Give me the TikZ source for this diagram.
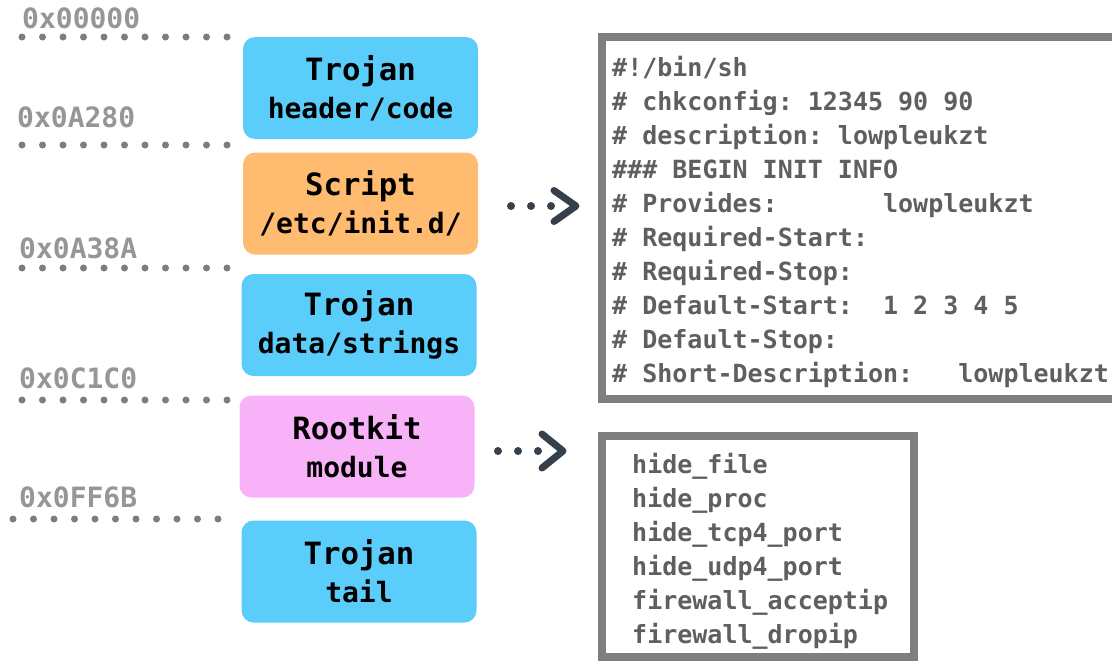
\documentclass[tikz,border=0pt]{standalone}
\usepackage{fontspec}
\setmonofont{DejaVu Sans Mono}
\usepackage{xcolor}
\definecolor{trojanblue}{RGB}{91,205,250}
\definecolor{scriptorange}{RGB}{255,187,112}
\definecolor{rootkitpink}{RGB}{248,178,248}
\definecolor{addrgray}{RGB}{150,150,150}
\definecolor{dotgray}{RGB}{125,125,125}
\definecolor{codegray}{RGB}{95,95,95}
\definecolor{framegray}{RGB}{127,127,127}
\definecolor{arrowslate}{RGB}{54,64,74}
\newcommand{\sectitle}[1]{{\fontsize{30.7}{38}\selectfont #1}}

\begin{document}
\begin{tikzpicture}[x=1pt, y=-1pt,
  section/.style={rounded corners=12pt, minimum width=235pt, minimum height=102pt,
    inner sep=0pt, align=center, font=\ttfamily\bfseries\fontsize{28}{38}\selectfont},
  addr/.style={anchor=base west, inner sep=0pt, text=addrgray,
    font=\ttfamily\bfseries\fontsize{28}{28}\selectfont},
  addrline/.style={dotgray, line width=7pt, line cap=round, dash pattern=on 0pt off 20.5pt},
  panel/.style={draw=framegray, line width=8pt, inner sep=0pt},
  codetext/.style={anchor=base west, inner sep=0pt, text=codegray,
    font=\ttfamily\bfseries\fontsize{25}{34}\selectfont},
  peekdots/.style={arrowslate, line width=8pt, line cap=round, dash pattern=on 0pt off 20pt},
  peekarrow/.style={arrowslate, line width=7pt, line cap=round, line join=round}]
  \useasboundingbox (0,0) rectangle (1112,662);

  % Sections
  \node[section, fill=trojanblue] (header) at (360.5, 88) {\sectitle{Trojan}\\header/code};
  \node[section, fill=scriptorange] (script) at (360.5, 203.5) {\sectitle{Script}\\/etc/init.d/};
  \node[section, fill=trojanblue] (data) at (359, 325) {\sectitle{Trojan}\\data/strings};
  \node[section, fill=rootkitpink] (rootkit) at (357, 446.5) {\sectitle{Rootkit}\\module};
  \node[section, fill=trojanblue] (tail) at (359, 571.5) {\sectitle{Trojan}\\tail};

  % Offsets
  \node[addr] (off1) at (22, 28) {0x00000};
  \node[addr] (off2) at (17, 127) {0x0A280};
  \node[addr] (off3) at (19, 258) {0x0A38A};
  \node[addr] (off4) at (19, 388) {0x0C1C0};
  \node[addr] (off5) at (19, 507) {0x0FF6B};
  \draw[addrline] (22, 37) -- (228, 37);
  \draw[addrline] (22, 145) -- (228, 145);
  \draw[addrline] (22, 268) -- (228, 268);
  \draw[addrline] (22, 400) -- (228, 400);
  \draw[addrline] (13, 519) -- (219, 519);

  % Panels
  \node[panel, minimum width=523pt, minimum height=362pt] (initpanel) at (863.5, 218) {};
  \node[panel, minimum width=312pt, minimum height=221pt] (funcpanel) at (758, 546.5) {};
  \foreach \ln [count=\i] in {\#!/bin/sh, \#~chkconfig:~12345~90~90,
      \#~description:~lowpleukzt, \#\#\#~BEGIN~INIT~INFO,
      \#~Provides:~~~~~~~lowpleukzt, \#~Required-Start:, \#~Required-Stop:,
      \#~Default-Start:~~1~2~3~4~5, \#~Default-Stop:,
      \#~Short-Description:~~~lowpleukzt}
    \node[codetext] (initline\i) at (612, 76+34*\i-34) {\ln};
  \foreach \ln [count=\i] in {hide\_file, hide\_proc, hide\_tcp4\_port,
      hide\_udp4\_port, firewall\_acceptip, firewall\_dropip}
    \node[codetext] (funcline\i) at (632, 473+34*\i-34) {\ln};

  % Arrows
  \coordinate (peek1) at (511, 206);
  \coordinate (peek1tip) at (576, 206);
  \coordinate (peek2) at (498, 451);
  \coordinate (peek2tip) at (563, 451);
  \draw[peekdots] (peek1) -- ++(41, 0);
  \draw[peekarrow] ([shift={(-22,-15.5)}]peek1tip) -- (peek1tip) -- ++(-22, 15.5);
  \draw[peekdots] (peek2) -- ++(43, 0);
  \draw[peekarrow] ([shift={(-21,-17)}]peek2tip) -- (peek2tip) -- ++(-21, 17);
\end{tikzpicture}
\end{document}
